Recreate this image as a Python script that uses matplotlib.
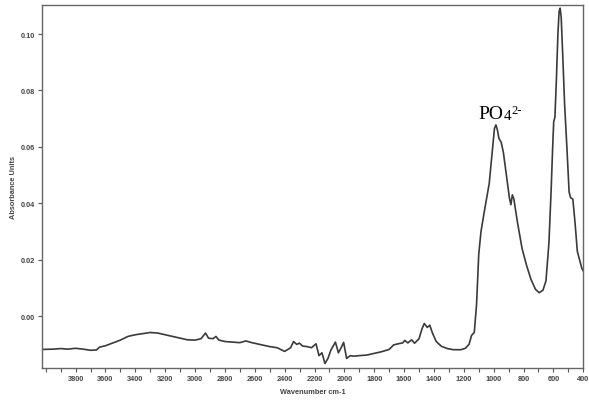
import matplotlib
matplotlib.use("Agg")
import matplotlib.pyplot as plt
from matplotlib.ticker import MultipleLocator

# FTIR spectrum (wavenumber in cm-1, absorbance units)
wavenumber = [
    4020, 3950, 3900, 3850, 3800, 3750, 3700, 3660, 3640, 3600,
    3550, 3500, 3450, 3400, 3350, 3300, 3250, 3200, 3150, 3100,
    3050, 3000, 2960, 2930, 2910, 2880, 2860, 2840, 2800, 2750,
    2700, 2660, 2620, 2550, 2500, 2450, 2400, 2360, 2340, 2320,
    2300, 2280, 2250, 2220, 2190, 2170, 2150, 2130, 2110, 2090,
    2060, 2040, 2020, 2005, 1985, 1960, 1940, 1900, 1850, 1800,
    1750, 1700, 1670, 1640, 1610, 1595, 1575, 1550, 1530, 1500,
    1480, 1465, 1445, 1428, 1410, 1385, 1350, 1310, 1270, 1220,
    1190, 1165, 1148, 1130, 1115, 1100, 1085, 1060, 1030, 1010,
    995, 985, 975, 965, 950, 935, 915, 895, 885, 875,
    865, 840, 810, 780, 750, 720, 695, 670, 650, 630,
    615, 605, 598, 590, 580, 570, 562, 555, 548, 538,
    525, 510, 495, 485, 470, 455, 440, 425, 410, 400,
]
absorbance = [
    -0.0118, -0.0117, -0.0115, -0.0117, -0.0114, -0.0117, -0.0121, -0.0120, -0.0110, -0.0105,
    -0.0095, -0.0085, -0.0072, -0.0066, -0.0062, -0.0058, -0.0060, -0.0066, -0.0072, -0.0078,
    -0.0084, -0.0085, -0.0080, -0.0060, -0.0078, -0.0080, -0.0072, -0.0085, -0.0090, -0.0092,
    -0.0094, -0.0088, -0.0094, -0.0102, -0.0108, -0.0112, -0.0125, -0.0112, -0.0090, -0.0100,
    -0.0096, -0.0106, -0.0108, -0.0112, -0.0098, -0.0140, -0.0130, -0.0168, -0.0150, -0.0120,
    -0.0092, -0.0130, -0.0110, -0.0093, -0.0150, -0.0140, -0.0142, -0.0140, -0.0138, -0.0132,
    -0.0126, -0.0118, -0.0102, -0.0098, -0.0095, -0.0086, -0.0095, -0.0084, -0.0096, -0.0080,
    -0.0045, -0.0026, -0.0040, -0.0032, -0.0060, -0.0090, -0.0107, -0.0115, -0.0119, -0.0119,
    -0.0114, -0.0100, -0.0068, -0.0058, 0.0040, 0.0220, 0.0300, 0.0380, 0.0470, 0.0580,
    0.0665, 0.0678, 0.0660, 0.0630, 0.0617, 0.0580, 0.0500, 0.0420, 0.0395, 0.0430,
    0.0415, 0.0330, 0.0240, 0.0180, 0.0130, 0.0095, 0.0083, 0.0092, 0.0125, 0.0260,
    0.0450, 0.0600, 0.0690, 0.0705, 0.0840, 0.1000, 0.1080, 0.1092, 0.1060, 0.0930,
    0.0750, 0.0600, 0.0440, 0.0420, 0.0415, 0.0330, 0.0230, 0.0200, 0.0170, 0.0160,
]

x_major = list(range(3800, 399, -200))
y_major = [0.00, 0.02, 0.04, 0.06, 0.08, 0.10]

plt.rcParams["font.family"] = ["Liberation Sans", "DejaVu Sans"]

fig = plt.figure(figsize=(5.89, 4.02), dpi=100)
ax = fig.add_axes([0.0713, 0.082, 0.919, 0.903])

ax.plot(wavenumber, absorbance, color="#3a3a3a", lw=1.2)

ax.set_xlim(4025, 400)
ax.set_ylim(-0.0184, 0.1103)
ax.set_xticks(x_major)
ax.xaxis.set_minor_locator(MultipleLocator(100))
ax.set_yticks(y_major)
ax.set_yticklabels([f"{v:.2f}" for v in y_major])

for s in ax.spines.values():
    s.set_color("#666666")
    s.set_linewidth(1.0)

ax.tick_params(axis="both", which="both", direction="out", colors="#555555",
               labelcolor="#444444", labelsize=5.3)
ax.tick_params(axis="both", which="major", length=3, width=0.8, pad=2)
ax.tick_params(axis="x", which="minor", length=3, width=0.8)
for lbl in ax.get_xticklabels() + ax.get_yticklabels():
    lbl.set_fontweight("bold")

ax.set_xlabel("Wavenumber cm-1", fontsize=5.3, fontweight="bold", color="#444444", labelpad=4)
ax.set_ylabel("Absorbance Units", fontsize=5.3, fontweight="bold", color="#444444", labelpad=3)

# PO4 2- label: "4" close to the baseline, "2-" raised after it
serif = ["Liberation Serif", "DejaVu Serif"]
t_po = ax.text(1100, 0.0702, "PO", fontsize=14, family=serif, color="black",
               ha="left", va="baseline")
t_4 = ax.annotate("4", xy=(1, 0), xycoords=t_po, fontsize=11, family=serif,
                  color="black", ha="left", va="bottom")
ax.annotate("2-", xy=(1, 1), xycoords=(t_4, t_po), xytext=(0, 1),
            textcoords="offset points", fontsize=9, family=serif,
            color="black", ha="left", va="top")

fig.savefig("out.png", dpi=100)
